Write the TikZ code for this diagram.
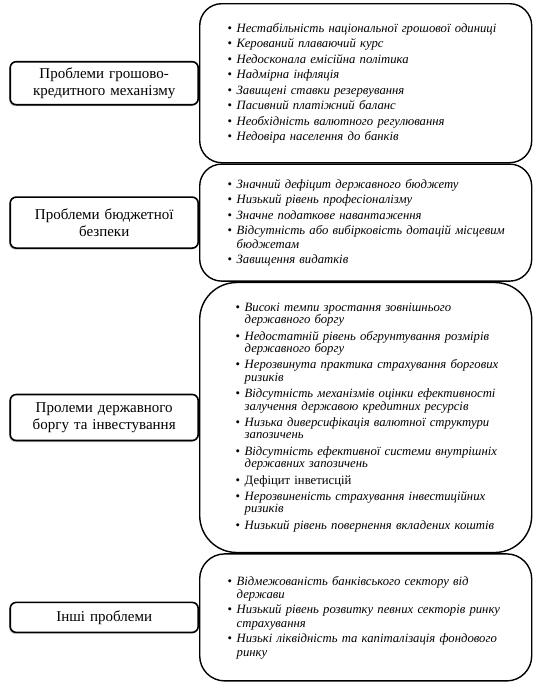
\documentclass[tikz,border=0pt]{standalone}
\usepackage{fontspec}
\setmainfont{Liberation Serif}
\usetikzlibrary{positioning,shadows}
\newcommand{\itm}[1]{\hangindent=9pt\hangafter=1\noindent\makebox[9pt][l]{\upshape\textbullet}#1\par}

\begin{document}
\begin{tikzpicture}[
  rbox/.style={draw, line width=1.4pt, rounded corners=22pt, minimum width=332pt, text width=332pt,
    inner xsep=0pt, inner ysep=0pt, align=left, font=\fontsize{12.7}{13.3}\selectfont\itshape},
  lbox/.style={draw, line width=1.6pt, rounded corners=6pt, fill=white,
    drop shadow={shadow xshift=-1pt, shadow yshift=-1.5pt, opacity=0.5},
    minimum width=188pt, text width=180pt, inner sep=0pt, align=center,
    font=\fontsize{15}{17.5}\selectfont}
]
\useasboundingbox (0,0) rectangle (540pt,-688pt);

% groups of problems
\node[rbox, minimum height=159pt, anchor=north west,
  execute at begin node={\setlength{\leftskip}{28pt}\setlength{\parskip}{2.2pt}}] (money) at (199pt,-3pt) {
  \itm{Нестабільність національної грошової одиниці}
  \itm{Керований плаваючий курс}
  \itm{Недосконала емісійна політика}
  \itm{Надмірна інфляція}
  \itm{Завищені ставки резервування}
  \itm{Пасивний платіжний баланс}
  \itm{Необхідність валютного регулювання}
  \itm{Недовіра населення до банків}
};
\node[rbox, minimum height=117pt, below=0pt of money,
  execute at begin node={\setlength{\leftskip}{28pt}\setlength{\parskip}{2.2pt}}] (budget) {
  \itm{Значний дефіцит державного бюджету}
  \itm{Низький рівень професіоналізму}
  \itm{Значне податкове навантаження}
  \itm{Відсутність або вибірковість дотацій місцевим\newline бюджетам}
  \itm{Завищення видатків}
};
\node[rbox, rounded corners=37pt, minimum height=270pt, below=0pt of budget,
  font=\fontsize{12.7}{12.4}\selectfont\itshape,
  execute at begin node={\setlength{\leftskip}{36pt}\setlength{\parskip}{4pt}}] (debt) {
  \itm{Високі темпи зростання зовнішнього\newline державного боргу}
  \itm{Недостатній рівень обгрунтування розмірів\newline державного боргу}
  \itm{Нерозвинута практика страхування боргових\newline ризиків}
  \itm{Відсутність механізмів оцінки ефективності\newline залучення державою кредитних ресурсів}
  \itm{Низька диверсифікація валютної структури\newline запозичень}
  \itm{Відсутність ефективної системи внутрішніх\newline державних запозичень}
  \itm{\textup{Дефіцит інветисцій}}
  \itm{Нерозвиненість страхування інвестиційних\newline ризиків}
  \itm{Низький рівень повернення вкладених коштів}
};
\node[rbox, rounded corners=25pt, minimum height=127pt, below=0pt of debt,
  execute at begin node={\setlength{\leftskip}{28pt}\setlength{\parskip}{2.2pt}}] (other) {
  \itm{Відмежованість банківського сектору від\newline держави}
  \itm{Низький рівень розвитку певних секторів ринку\newline страхування}
  \itm{Низькі ліквідність та капіталізація фондового\newline ринку}
};

% group titles
\node[lbox, minimum height=43pt, left=0pt of money] (moneytitle) {Проблеми грошово-\\кредитного механізму};
\node[lbox, minimum height=51pt, left=0pt of budget] (budgettitle) {Проблеми бюджетної\\безпеки};
\node[lbox, minimum height=46pt, left=0pt of debt] (debttitle) {Пролеми державного\\боргу та інвестування};
\node[lbox, minimum height=30pt, left=0pt of other] (othertitle) {Інші проблеми};
\end{tikzpicture}
\end{document}
